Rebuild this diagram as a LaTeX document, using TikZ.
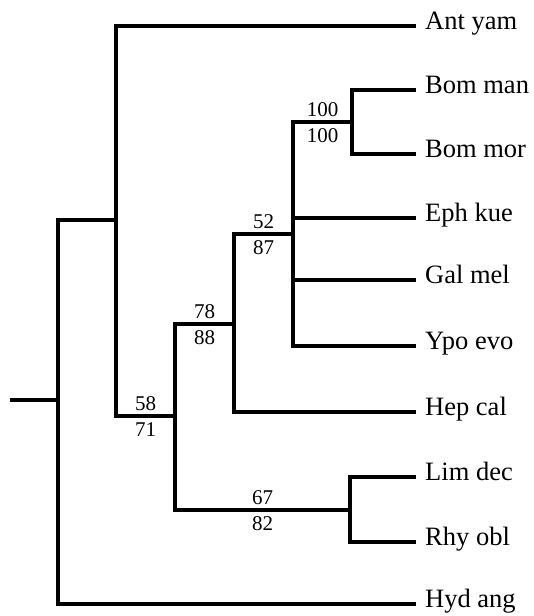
\documentclass[tikz,border=0pt]{standalone}
\usepackage{fontspec}
\setmainfont{Liberation Serif}
\usetikzlibrary{positioning}

\begin{document}
\begin{tikzpicture}[x=1pt, y=-1pt, line width=4.4pt, line cap=rect, line join=miter,
	taxon/.style={inner sep=0pt, font=\fontsize{26.5}{29}\selectfont},
	boot/.style={font=\fontsize{21}{23}\selectfont, inner sep=2pt}]
	
	\useasboundingbox (0,0) rectangle (533,616);
	
	% internal nodes
	\coordinate (stub) at (12,400);
	\coordinate (root) at (58,400);
	\coordinate (n1)   at (116,220);
	\coordinate (n58)  at (175,416);
	\coordinate (n78)  at (234,324);
	\coordinate (n52)  at (293,234);
	\coordinate (n100) at (352,122);
	\coordinate (n67)  at (350,510);
	
	% leaf tips
	\coordinate (tant) at (414,26);
	\coordinate (tbma) at (414,90);
	\coordinate (tbmo) at (414,154);
	\coordinate (teph) at (414,218);
	\coordinate (tgal) at (414,280);
	\coordinate (typo) at (414,346);
	\coordinate (thep) at (414,412);
	\coordinate (tlim) at (414,477);
	\coordinate (trhy) at (414,542);
	\coordinate (thyd) at (414,604);
	
	% taxon labels
	\node[taxon, right=9pt of tant, anchor=base west, yshift=-3pt] (ant) {Ant yam};
	\node[taxon, right=9pt of tbma, anchor=base west, yshift=-3pt] (bma) {Bom man};
	\node[taxon, right=9pt of tbmo, anchor=base west, yshift=-3pt] (bmo) {Bom mor};
	\node[taxon, right=9pt of teph, anchor=base west, yshift=-3pt] (eph) {Eph kue};
	\node[taxon, right=9pt of tgal, anchor=base west, yshift=-3pt] (gal) {Gal mel};
	\node[taxon, right=9pt of typo, anchor=base west, yshift=-3pt] (ypo) {Ypo evo};
	\node[taxon, right=9pt of thep, anchor=base west, yshift=-3pt] (hep) {Hep cal};
	\node[taxon, right=9pt of tlim, anchor=base west, yshift=-3pt] (lim) {Lim dec};
	\node[taxon, right=9pt of trhy, anchor=base west, yshift=-3pt] (rhy) {Rhy obl};
	\node[taxon, right=9pt of thyd, anchor=base west, yshift=-3pt] (hyd) {Hyd ang};
	
	% branches
	\draw (stub) -- (root);
	\draw (root) |- (n1);
	\draw (root) |- (thyd);
	\draw (n1) |- (tant);
	\draw (n1) |- (n58) node[boot, pos=0.75, above=1pt] {58} node[boot, pos=0.75, below=2pt] {71};
	\draw (n58) |- (n78) node[boot, pos=0.75, above=1pt] {78} node[boot, pos=0.75, below=2pt] {88};
	\draw (n58) |- (n67) node[boot, pos=0.75, above=1pt] {67} node[boot, pos=0.75, below=2pt] {82};
	\draw (n78) |- (n52) node[boot, pos=0.75, above=1pt] {52} node[boot, pos=0.75, below=2pt] {87};
	\draw (n78) |- (thep);
	\draw (n52) |- (n100) node[boot, pos=0.75, above=1pt] {100} node[boot, pos=0.75, below=2pt] {100};
	\draw (n52) |- (teph);
	\draw (n52) |- (tgal);
	\draw (n52) |- (typo);
	\draw (n100) |- (tbma);
	\draw (n100) |- (tbmo);
	\draw (n67) |- (tlim);
	\draw (n67) |- (trhy);
	
\end{tikzpicture}
\end{document}
